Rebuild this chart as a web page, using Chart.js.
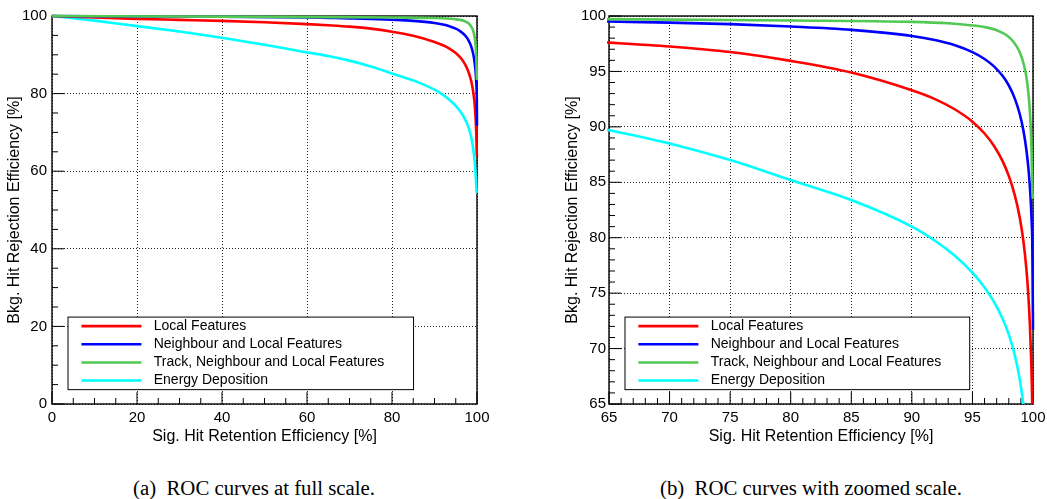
<!DOCTYPE html>
<html>
<head>
<meta charset="utf-8">
<script src="https://cdn.jsdelivr.net/npm/chart.js@4.4.1/dist/chart.umd.min.js"></script>
<style>
body { margin: 0; background: #fff; width: 1047px; height: 499px; overflow: hidden; position: relative; }
.plot { position: absolute; top: 0; }
#plotA { left: 0; }
#plotB { left: 556px; }
.cap { position: absolute; top: 476px; font-family: "Liberation Serif", "Times New Roman", serif; font-size: 20.8px;
       white-space: pre; transform: translateX(-50%); color: #000; }
</style>
</head>
<body>
<canvas class="plot" id="plotA" width="500" height="460"></canvas>
<canvas class="plot" id="plotB" width="495" height="460"></canvas>
<div class="cap" style="left:254px">(a)  ROC curves at full scale.</div>
<div class="cap" style="left:811px">(b)  ROC curves with zoomed scale.</div>
<script>
// ---- data (x = signal retention, y = background rejection, in %) ----
var seriesNames = ['Local Features', 'Neighbour and Local Features',
                   'Track, Neighbour and Local Features', 'Energy Deposition'];

var localSig = [0, 10, 20, 30, 40, 50, 60, 65, 70, 75, 80, 85, 90, 92, 93.5, 95, 96, 96.8, 97.5, 98, 98.5, 98.9, 99.2, 99.45, 99.62, 99.75, 99.84, 99.9, 99.94, 100];
var localBkg = [100, 99.6, 99.25, 99.0, 98.75, 98.4, 97.9, 97.6, 97.25, 96.75, 95.95, 94.9, 93.3, 92.46, 91.61, 90.47, 89.4, 88.25, 86.89, 85.58, 83.82, 81.85, 79.76, 77.23, 74.72, 71.97, 69.32, 66.95, 64.9, 63.8];

var neighSig = [0, 20, 40, 60, 65, 70, 75, 80, 85, 90, 92, 93.5, 95, 96, 96.8, 97.5, 98, 98.5, 98.9, 99.2, 99.45, 99.62, 99.75, 99.84, 99.9, 99.94, 100];
var neighBkg = [100, 99.9, 99.8, 99.6, 99.5, 99.4, 99.27, 99.05, 98.75, 98.2, 97.81, 97.38, 96.74, 96.12, 95.43, 94.58, 93.74, 92.55, 91.18, 89.72, 87.96, 86.28, 84.49, 82.76, 81.2, 79.7, 71.7];

var trackSig = [0, 40, 65, 80, 90, 93, 95, 96, 97, 97.8, 98.4, 98.9, 99.25, 99.5, 99.67, 99.8, 99.88, 99.94, 100];
var trackBkg = [100, 99.85, 99.72, 99.6, 99.47, 99.34, 99.15, 99.0, 98.72, 98.28, 97.66, 96.76, 95.6, 94.17, 92.49, 90.24, 87.82, 84.5, 83.5];

var edepSig = [0, 10, 20, 30, 40, 50, 60, 65, 70, 75, 80, 85, 90, 92, 93.5, 95, 96, 96.8, 97.5, 98, 98.5, 98.9, 99.2, 99.45, 99.62, 99.75, 99.84, 99.9, 100];
var edepBkg = [100, 98.8, 97.4, 96.0, 94.4, 92.6, 90.6, 89.7, 88.5, 87.0, 85.2, 83.4, 81.0, 79.66, 78.41, 76.84, 75.5, 74.16, 72.67, 71.28, 69.4, 67.26, 65.0, 62.47, 60.15, 57.92, 56.0, 54.56, 54.3];

// tick labels of the two panels
var fullTicks = [0, 20, 40, 60, 80, 100];
var zoomTicks = [65, 70, 75, 80, 85, 90, 95, 100];

var xTitle = 'Sig. Hit Retention Efficiency [%]';
var yTitle = 'Bkg. Hit Rejection Efficiency [%]';

var FONT = '"Liberation Sans", Arial, Helvetica, sans-serif';

function pts(xs, ys) {
    return xs.map(function (x, i) { return {x: x, y: ys[i]}; });
}

function makeDatasets() {
    var sets = [
        {sig: localSig, bkg: localBkg, color: '#ff0000', order: 3},
        {sig: neighSig, bkg: neighBkg, color: '#0000ff', order: 2},
        {sig: trackSig, bkg: trackBkg, color: '#52c952', order: 1},
        {sig: edepSig, bkg: edepBkg, color: '#00ffff', order: 4}
    ];
    return sets.map(function (s, i) {
        return {
            label: seriesNames[i],
            data: pts(s.sig, s.bkg),
            borderColor: s.color,
            backgroundColor: s.color,
            borderWidth: 2.6,
            pointRadius: 0,
            fill: false,
            cubicInterpolationMode: 'monotone',
            order: s.order,
            clip: {left: 2, top: 2, right: 2, bottom: 0}
        };
    });
}

// ROOT look: frame, inward major/minor ticks, legend box inside the pad
var rootStyle = {
    id: 'rootStyle',
    beforeDatasetsDraw: function (chart, args, opts) {
        var ctx = chart.ctx, a = chart.chartArea;
        var sx = chart.scales.x, sy = chart.scales.y;
        ctx.save();
        ctx.strokeStyle = '#000';
        ctx.lineWidth = 1;
        ctx.beginPath();
        var v, p, len;
        for (v = sx.min; v <= sx.max + 1e-9; v += opts.minor) {
            p = sx.getPixelForValue(v);
            len = (Math.abs(v / opts.major - Math.round(v / opts.major)) < 1e-6) ? 12 : 6;
            ctx.moveTo(p, a.bottom);
            ctx.lineTo(p, a.bottom - len);
        }
        for (v = sy.min; v <= sy.max + 1e-9; v += opts.minor) {
            p = sy.getPixelForValue(v);
            len = (Math.abs(v / opts.major - Math.round(v / opts.major)) < 1e-6) ? 12 : 6;
            ctx.moveTo(a.left, p);
            ctx.lineTo(a.left + len, p);
        }
        ctx.stroke();
        ctx.lineWidth = 1.4;
        ctx.strokeRect(a.left, a.top, a.right - a.left, a.bottom - a.top);
        ctx.restore();
    },
    afterDatasetsDraw: function (chart) {
        var ctx = chart.ctx, a = chart.chartArea;
        var w = a.right - a.left, h = a.bottom - a.top;
        var bx = a.left + 0.0377 * w, by = a.top + 0.776 * h;
        var bw = 0.813 * w, bh = 0.187 * h;
        ctx.save();
        ctx.fillStyle = '#fff';
        ctx.fillRect(bx, by, bw, bh);
        ctx.strokeStyle = '#000';
        ctx.lineWidth = 1;
        ctx.strokeRect(bx, by, bw, bh);
        var rowH = bh / chart.data.datasets.length;
        chart.data.datasets.forEach(function (ds, i) {
            var cy = by + rowH * (i + 0.5);
            ctx.strokeStyle = ds.borderColor;
            ctx.lineWidth = 2.6;
            ctx.beginPath();
            ctx.moveTo(bx + 13.4, cy);
            ctx.lineTo(bx + 73.4, cy);
            ctx.stroke();
            ctx.fillStyle = '#000';
            ctx.font = '14px ' + FONT;
            ctx.textBaseline = 'middle';
            ctx.textAlign = 'left';
            ctx.fillText(ds.label, bx + 85.7, cy);
        });
        ctx.restore();
    }
};

function makeChart(id, lo, tickVals, major, minor, yWidth, rightPad, labelPad, yTitlePad) {
    var axis = function (isX) {
        return {
            type: 'linear',
            min: lo,
            max: 100,
            afterBuildTicks: function (s) {
                s.ticks = tickVals.map(function (v) { return {value: v}; });
            },
            afterFit: function (s) {
                if (isX) { s.height = 56; } else { s.width = yWidth; }
            },
            grid: {
                color: '#222',
                lineWidth: 1,
                drawTicks: false
            },
            border: {display: false, dash: [1, 2]},
            ticks: {
                autoSkip: false,
                maxRotation: 0,
                color: '#000',
                padding: isX ? 5 : labelPad,
                font: {family: FONT, size: 15}
            },
            title: {
                display: true,
                text: isX ? xTitle : yTitle,
                color: '#000',
                font: {family: FONT, size: 16},
                padding: isX ? {top: 4, bottom: 13.7} : {top: yTitlePad, bottom: 4}
            }
        };
    };
    return new Chart(document.getElementById(id), {
        type: 'line',
        data: {datasets: makeDatasets()},
        options: {
            responsive: false,
            animation: false,
            events: [],
            layout: {padding: {left: 0, top: 16, right: rightPad, bottom: 0}},
            scales: {x: axis(true), y: axis(false)},
            plugins: {
                legend: {display: false},
                tooltip: {enabled: false},
                rootStyle: {major: major, minor: minor}
            }
        },
        plugins: [rootStyle]
    });
}

makeChart('plotA', 0, fullTicks, 20, 5, 52, 23, 5, 5.4);
makeChart('plotB', 65, zoomTicks, 5, 1, 53, 18, 3, 7.1);
</script>
</body>
</html>
